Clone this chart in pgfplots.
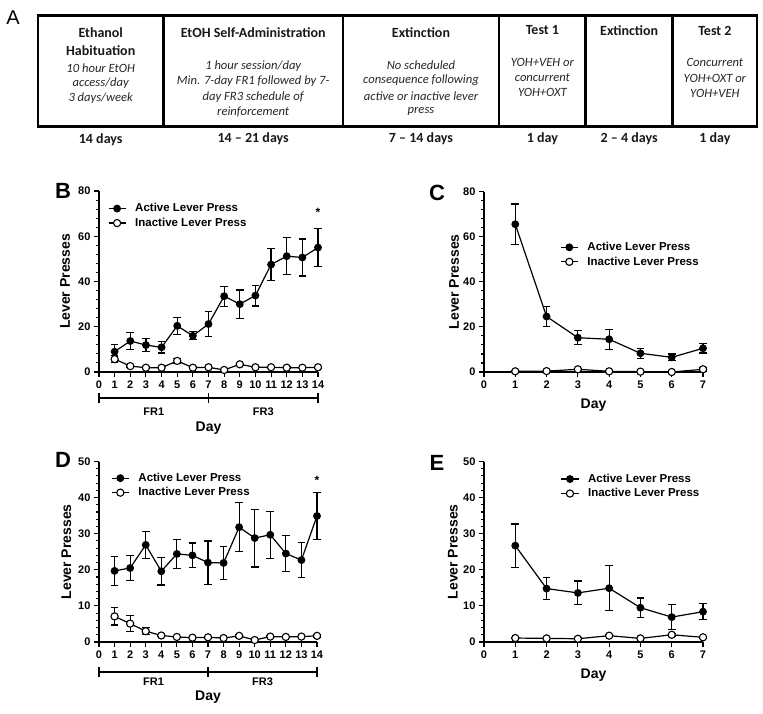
\documentclass[border=0pt]{standalone}
\usepackage{fontspec}
\usepackage{pgfplots}
\usepackage{pgfplotstable}
\pgfplotsset{compat=1.18}
\setmainfont{Liberation Sans}
\newfontfamily\calibri{Carlito}

\pgfplotstableread{
d m e
1 9.0 3.0
2 13.7 3.8
3 11.9 3.0
4 10.9 2.5
5 20.4 3.7
6 16.0 1.8
7 21.2 5.4
8 33.5 4.4
9 30.0 6.2
10 33.8 4.6
11 47.5 7.1
12 51.2 8.1
13 50.6 8.2
14 55.0 8.4
}\Bact
\pgfplotstableread{
d m e
1 5.7 1.5
2 2.6 0.4
3 1.9 0.3
4 1.9 0.3
5 4.9 1.0
6 1.9 0.3
7 2.1 0.3
8 0.9 0.3
9 3.4 0.5
10 2.1 0.3
11 2.1 0.3
12 1.9 0.3
13 1.9 0.3
14 2.1 0.5
}\Binact
\pgfplotstableread{
d m e
1 65.5 9.0
2 24.6 4.4
3 15.2 3.1
4 14.5 4.4
5 8.3 2.2
6 6.5 1.5
7 10.5 2.1
}\Cact
\pgfplotstableread{
d m e
1 0.3 0.2
2 0.4 0.3
3 1.2 0.5
4 0.3 0.2
5 0.15 0.1
6 0.0 0.1
7 1.2 0.8
}\Cinact
\pgfplotstableread{
d m e
1 19.7 4.0
2 20.5 3.5
3 26.9 3.8
4 19.6 3.8
5 24.4 4.1
6 24.0 3.4
7 22.0 6.0
8 21.9 4.6
9 31.8 6.8
10 28.8 8.0
11 29.7 6.5
12 24.5 4.9
13 22.7 4.9
14 34.9 6.6
}\Dact
\pgfplotstableread{
d m e
1 7.1 2.4
2 5.1 2.3
3 3.0 1.0
4 1.8 0.3
5 1.4 0.2
6 1.2 0.2
7 1.3 0.2
8 1.1 0.2
9 1.7 0.3
10 0.55 0.2
11 1.5 0.2
12 1.4 0.2
13 1.5 0.2
14 1.7 0.3
}\Dinact
\pgfplotstableread{
d m e
1 26.7 6.0
2 14.8 3.1
3 13.6 3.3
4 14.9 6.2
5 9.5 2.7
6 6.9 3.4
7 8.4 2.2
}\Eact
\pgfplotstableread{
d m e
1 1.1 0.2
2 1.0 0.2
3 0.9 0.2
4 1.75 0.3
5 1.0 0.2
6 2.0 0.4
7 1.3 0.3
}\Einact

\pgfplotsset{
  panel/.style={
    scale only axis, clip=false,
    axis lines=left, axis line style={-, line width=1.3pt, black},
    xmin=0, ymin=0,
    tick align=outside,
    major tick length=5pt, minor tick length=3pt,
    tick style={black, line width=1.1pt},
    minor y tick num=4,
    tick label style={font=\bfseries\fontsize{11}{12}\selectfont},
    /pgf/number format/assume math mode=true,
    label style={font=\bfseries\fontsize{14}{16}\selectfont},
    xlabel={Day}, ylabel={Lever Presses},
    legend style={draw=none, fill=none, anchor=north west, inner sep=0pt,
      font=\bfseries\fontsize{11.5}{13}\selectfont,
      nodes={inner sep=0pt, text height=8.5pt, text depth=2pt},
      row sep=4pt, column sep=9pt},
    legend cell align=left,
  },
  act/.style={black, line width=1.2pt, mark=*, mark size=3.3pt,
    mark options={solid, fill=black},
    error bars/.cd, y dir=both, y explicit,
    error bar style={line width=1.2pt},
    error mark options={rotate=90, mark size=3.8pt, line width=1.2pt}},
  inact/.style={black, line width=1.2pt, mark=*, mark size=3.6pt,
    mark options={solid, fill=white, line width=1.1pt},
    error bars/.cd, y dir=both, y explicit,
    error bar style={line width=1.2pt},
    error mark options={rotate=90, mark size=3.8pt, line width=1.2pt}},
}

\begin{document}
\begin{tikzpicture}[x=1pt, y=1pt]
\useasboundingbox (0,0) rectangle (763,713);

% ---------------- Panel A ----------------
\node[font=\fontsize{20}{22}\selectfont] at (13,695) {A};
\draw[line width=2.6pt] (38,697.3) rectangle (757,586.3);
\foreach \xx in {163.3,343,499,585.7,672.7}
  \draw[line width=2.6pt] (\xx,697.3) -- (\xx,586.3);
\begin{scope}[every node/.style={font=\calibri\fontsize{12.6}{15}\selectfont\itshape, text=black!85}]
  \node at (100.7,645.3) {10 hour EtOH};
  \node at (100.7,630.3) {access/day};
  \node at (100.7,614.7) {3 days/week};
  \node at (253.2,647.3) {1 hour session/day};
  \node at (253.2,632) {Min. 7-day FR1 followed by 7-};
  \node at (253.2,616.3) {day FR3 schedule of};
  \node at (253.2,601.3) {reinforcement};
  \node at (421,648) {No scheduled};
  \node at (421,633) {consequence following};
  \node at (421,617.3) {active or inactive lever};
  \node at (421,602) {press};
  \node at (542.4,650.7) {YOH+VEH or};
  \node at (542.4,635.3) {concurrent};
  \node at (542.4,620.7) {YOH+OXT};
  \node at (714.9,650.3) {Concurrent};
  \node at (714.9,634.7) {YOH+OXT or};
  \node at (714.9,619.7) {YOH+VEH};
\end{scope}
\begin{scope}[every node/.style={font=\calibri\bfseries\fontsize{14}{16}\selectfont, text=black!90}]
  \node at (100.7,680) {Ethanol};
  \node at (100.7,662) {Habituation};
  \node at (253.2,680) {EtOH Self-Administration};
  \node at (421,680.7) {Extinction};
  \node at (542.4,683) {Test 1};
  \node at (629.2,682.3) {Extinction};
  \node at (714.9,682.3) {Test 2};
  \node at (100.7,573) {14 days};
  \node at (253.2,574) {14 \textendash{} 21 days};
  \node at (421,574) {7 \textendash{} 14 days};
  \node at (542.4,574) {1 day};
  \node at (629.2,574) {2 \textendash{} 4 days};
  \node at (714.9,574) {1 day};
\end{scope}

% ---------------- Panel letters ----------------
\node[font=\bfseries\fontsize{22}{24}\selectfont] at (63,522) {B};
\node[font=\bfseries\fontsize{22}{24}\selectfont] at (437,520) {C};
\node[font=\bfseries\fontsize{22}{24}\selectfont] at (63,253) {D};
\node[font=\bfseries\fontsize{22}{24}\selectfont] at (437,250) {E};

% ---------------- Panel B ----------------
\begin{axis}[panel, at={(99pt,341pt)}, anchor=south west, width=219pt, height=181pt,
  xmax=14, ymax=80, xtick={0,...,14}, ytick={0,20,...,80},
  ylabel style={at={(axis description cs:-0.155,0.5)}, anchor=center},
  xlabel style={at={(axis description cs:0.5,-0.309)}, anchor=center},
  legend style={at={(axis description cs:0.04,0.933)}}]
\addplot[act] table[x=d, y=m, y error=e] {\Bact};
\addlegendentry{Active Lever Press}
\addplot[inact] table[x=d, y=m, y error=e] {\Binact};
\addlegendentry{Inactive Lever Press}
\node[font=\bfseries\fontsize{12}{14}\selectfont] at (axis cs:14,70.5) {*};
\draw[line width=1.3pt] ([yshift=-26pt]axis cs:0,0) -- ([yshift=-26pt]axis cs:14,0);
\draw[line width=1.3pt] ([yshift=-21pt]axis cs:0,0) -- ([yshift=-31pt]axis cs:0,0);
\draw[line width=1.3pt] ([yshift=-21pt]axis cs:7,0) -- ([yshift=-31pt]axis cs:7,0);
\draw[line width=1.3pt] ([yshift=-21pt]axis cs:14,0) -- ([yshift=-31pt]axis cs:14,0);
\node[font=\bfseries\fontsize{11}{13}\selectfont] at ([yshift=-40pt]axis cs:3.5,0) {FR1};
\node[font=\bfseries\fontsize{11}{13}\selectfont] at ([yshift=-40pt]axis cs:10.5,0) {FR3};
\end{axis}

% ---------------- Panel C ----------------
\begin{axis}[panel, at={(484pt,341pt)}, anchor=south west, width=219pt, height=180.5pt,
  xmax=7, ymax=80, xtick={0,...,7}, ytick={0,20,...,80},
  ylabel style={at={(axis description cs:-0.137,0.5)}, anchor=center},
  xlabel style={at={(axis description cs:0.5,-0.183)}, anchor=center},
  legend style={at={(axis description cs:0.347,0.721)}}]
\addplot[act] table[x=d, y=m, y error=e] {\Cact};
\addlegendentry{Active Lever Press}
\addplot[inact] table[x=d, y=m, y error=e] {\Cinact};
\addlegendentry{Inactive Lever Press}
\end{axis}

% ---------------- Panel D ----------------
\begin{axis}[panel, at={(99pt,71pt)}, anchor=south west, width=218pt, height=180.5pt,
  xmax=14, ymax=50, xtick={0,...,14}, ytick={0,10,...,50},
  ylabel style={at={(axis description cs:-0.15,0.5)}, anchor=center},
  xlabel style={at={(axis description cs:0.5,-0.305)}, anchor=center},
  legend style={at={(axis description cs:0.055,0.938)}}]
\addplot[act] table[x=d, y=m, y error=e] {\Dact};
\addlegendentry{Active Lever Press}
\addplot[inact] table[x=d, y=m, y error=e] {\Dinact};
\addlegendentry{Inactive Lever Press}
\node[font=\bfseries\fontsize{12}{14}\selectfont] at (axis cs:14,44.8) {*};
\draw[line width=1.3pt] ([yshift=-30pt]axis cs:0,0) -- ([yshift=-30pt]axis cs:14,0);
\draw[line width=1.3pt] ([yshift=-25pt]axis cs:0,0) -- ([yshift=-35pt]axis cs:0,0);
\draw[line width=1.3pt] ([yshift=-25pt]axis cs:7,0) -- ([yshift=-35pt]axis cs:7,0);
\draw[line width=1.3pt] ([yshift=-25pt]axis cs:14,0) -- ([yshift=-35pt]axis cs:14,0);
\node[font=\bfseries\fontsize{11}{13}\selectfont] at ([yshift=-40pt]axis cs:3.5,0) {FR1};
\node[font=\bfseries\fontsize{11}{13}\selectfont] at ([yshift=-40pt]axis cs:10.5,0) {FR3};
\end{axis}

% ---------------- Panel E ----------------
\begin{axis}[panel, at={(484pt,71pt)}, anchor=south west, width=219pt, height=180.5pt,
  xmax=7, ymax=50, xtick={0,...,7}, ytick={0,10,...,50},
  ylabel style={at={(axis description cs:-0.142,0.5)}, anchor=center},
  xlabel style={at={(axis description cs:0.5,-0.183)}, anchor=center},
  legend style={at={(axis description cs:0.35,0.933)}}]
\addplot[act] table[x=d, y=m, y error=e] {\Eact};
\addlegendentry{Active Lever Press}
\addplot[inact] table[x=d, y=m, y error=e] {\Einact};
\addlegendentry{Inactive Lever Press}
\end{axis}
\end{tikzpicture}
\end{document}
